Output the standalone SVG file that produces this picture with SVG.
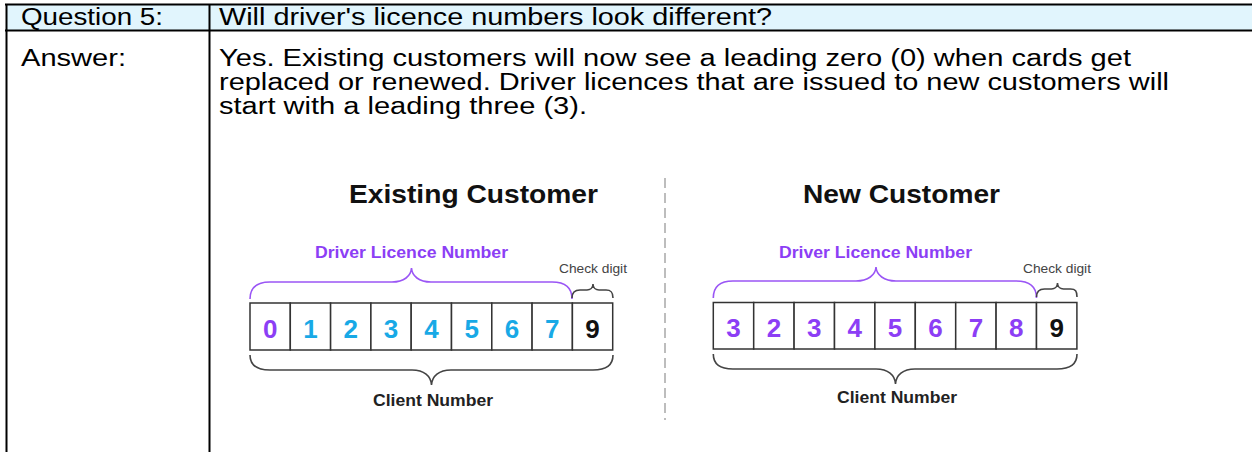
<svg xmlns="http://www.w3.org/2000/svg" width="1252" height="452" viewBox="0 0 1252 452">
<style>
.t{font-family:"Liberation Sans",Arial,sans-serif;font-size:23px;fill:#000}
.b{font-family:"Liberation Sans",Arial,sans-serif;font-weight:bold}
.title{font-size:26px;fill:#111}
.dln{font-size:16px;fill:#8c3ef5}
.chk{font-family:"Liberation Sans",Arial,sans-serif;font-size:13px;fill:#444}
.cn{font-size:16px;fill:#222}
.dg{font-size:26px;text-anchor:middle}
.box{fill:#fff;stroke:#333;stroke-width:1.5}
.pb{fill:none;stroke:#9a55f5;stroke-width:1.6}
.kb{fill:none;stroke:#444;stroke-width:1.6}
.grid{stroke:#000;stroke-width:2;fill:none}
</style>
<rect width="1252" height="452" fill="#fff"/>
<g id="table">
<rect x="6" y="4" width="1246" height="26" fill="#e1f5fd"/>
<line class="grid" x1="5" y1="4.5" x2="1252" y2="4.5"/>
<line class="grid" x1="5" y1="30.5" x2="1252" y2="30.5"/>
<line class="grid" x1="6.5" y1="4" x2="6.5" y2="452"/>
<line class="grid" x1="209.5" y1="4" x2="209.5" y2="452"/>
<text class="t" x="21" y="25" textLength="142" lengthAdjust="spacingAndGlyphs">Question 5:</text>
<text class="t" x="219" y="25" textLength="553" lengthAdjust="spacingAndGlyphs">Will driver's licence numbers look different?</text>
<text class="t" x="21" y="66" textLength="105" lengthAdjust="spacingAndGlyphs">Answer:</text>
<text class="t" x="219" y="66" textLength="912" lengthAdjust="spacingAndGlyphs">Yes. Existing customers will now see a leading zero (0) when cards get</text>
<text class="t" x="219" y="90" textLength="950" lengthAdjust="spacingAndGlyphs">replaced or renewed. Driver licences that are issued to new customers will</text>
<text class="t" x="219" y="114" textLength="368" lengthAdjust="spacingAndGlyphs">start with a leading three (3).</text>
</g>
<g id="divider">
<line x1="665" y1="178" x2="665" y2="420" stroke="#bdbdbd" stroke-width="2" stroke-dasharray="10 5"/>
</g>
<g id="existing">
<text class="b title" x="349" y="203" textLength="249" lengthAdjust="spacingAndGlyphs">Existing Customer</text>
<text class="b dln" x="315" y="258" textLength="193" lengthAdjust="spacingAndGlyphs">Driver Licence Number</text>
<text class="chk" x="559" y="273" textLength="68" lengthAdjust="spacingAndGlyphs">Check digit</text>
<g>
<rect class="box" x="250" y="303" width="40.3" height="47"/>
<rect class="box" x="290.3" y="303" width="40.3" height="47"/>
<rect class="box" x="330.6" y="303" width="40.3" height="47"/>
<rect class="box" x="370.9" y="303" width="40.3" height="47"/>
<rect class="box" x="411.2" y="303" width="40.3" height="47"/>
<rect class="box" x="451.5" y="303" width="40.3" height="47"/>
<rect class="box" x="491.8" y="303" width="40.3" height="47"/>
<rect class="box" x="532.1" y="303" width="40.3" height="47"/>
<rect class="box" x="572.4" y="303" width="40.3" height="47"/>
</g>
<text class="b dg" x="270.2" y="338" fill="#8c3ef5">0</text>
<text class="b dg" x="310.5" y="338" fill="#18a9e6">1</text>
<text class="b dg" x="350.8" y="338" fill="#18a9e6">2</text>
<text class="b dg" x="391.1" y="338" fill="#18a9e6">3</text>
<text class="b dg" x="431.4" y="338" fill="#18a9e6">4</text>
<text class="b dg" x="471.7" y="338" fill="#18a9e6">5</text>
<text class="b dg" x="512" y="338" fill="#18a9e6">6</text>
<text class="b dg" x="552.3" y="338" fill="#18a9e6">7</text>
<text class="b dg" x="592.6" y="338" fill="#111">9</text>
<path class="pb" d="M250,299 C250,288 256,282 270,282 L392,282 C404,282 411,276 411.5,268 C412,276 419,282 431,282 L552,282 C566,282 572,288 572,299"/>
<path class="kb" d="M572,298 C572,292 575,290 580,290 L587,290 C590,290 593,288 593,284 C593,288 596,290 599,290 L606,290 C611,290 613,292 613,298"/>
<path class="kb" d="M250,355 C250,365 256,370 270,370 L412,370 C424,370 431,376 431.5,385 C432,376 439,370 451,370 L593,370 C607,370 613,365 613,355"/>
<text class="b cn" x="373" y="406" textLength="120" lengthAdjust="spacingAndGlyphs">Client Number</text>
</g>
<g id="new">
<text class="b title" x="803" y="203" textLength="197" lengthAdjust="spacingAndGlyphs">New Customer</text>
<text class="b dln" x="779" y="258" textLength="193" lengthAdjust="spacingAndGlyphs">Driver Licence Number</text>
<text class="chk" x="1023" y="273" textLength="68" lengthAdjust="spacingAndGlyphs">Check digit</text>
<g>
<rect class="box" x="713.3" y="302.5" width="40.4" height="46.5"/>
<rect class="box" x="753.7" y="302.5" width="40.4" height="46.5"/>
<rect class="box" x="794.1" y="302.5" width="40.4" height="46.5"/>
<rect class="box" x="834.5" y="302.5" width="40.4" height="46.5"/>
<rect class="box" x="874.9" y="302.5" width="40.4" height="46.5"/>
<rect class="box" x="915.3" y="302.5" width="40.4" height="46.5"/>
<rect class="box" x="955.7" y="302.5" width="40.4" height="46.5"/>
<rect class="box" x="996.1" y="302.5" width="40.4" height="46.5"/>
<rect class="box" x="1036.5" y="302.5" width="40.4" height="46.5"/>
</g>
<text class="b dg" x="733.5" y="337" fill="#8c3ef5">3</text>
<text class="b dg" x="773.9" y="337" fill="#8c3ef5">2</text>
<text class="b dg" x="814.3" y="337" fill="#8c3ef5">3</text>
<text class="b dg" x="854.7" y="337" fill="#8c3ef5">4</text>
<text class="b dg" x="895.1" y="337" fill="#8c3ef5">5</text>
<text class="b dg" x="935.5" y="337" fill="#8c3ef5">6</text>
<text class="b dg" x="975.9" y="337" fill="#8c3ef5">7</text>
<text class="b dg" x="1016.3" y="337" fill="#8c3ef5">8</text>
<text class="b dg" x="1056.7" y="337" fill="#111">9</text>
<path class="pb" d="M713.3,298 C713.3,287 719,281 733,281 L856,281 C868,281 875.5,275 876,267 C876.5,275 884,281 896,281 L1016,281 C1030,281 1036.5,287 1036.5,298"/>
<path class="kb" d="M1036.5,297 C1036.5,291 1039.5,289 1044.5,289 L1051.5,289 C1054.5,289 1057.5,287 1057.5,283 C1057.5,287 1060.5,289 1063.5,289 L1070.5,289 C1075.5,289 1077,291 1077,297"/>
<path class="kb" d="M713.3,354 C713.3,364 719,369 733,369 L876,369 C888,369 895,375 895.5,384 C896,375 903,369 915,369 L1057,369 C1071,369 1077,364 1077,354"/>
<text class="b cn" x="837" y="403" textLength="120" lengthAdjust="spacingAndGlyphs">Client Number</text>
</g>
</svg>
